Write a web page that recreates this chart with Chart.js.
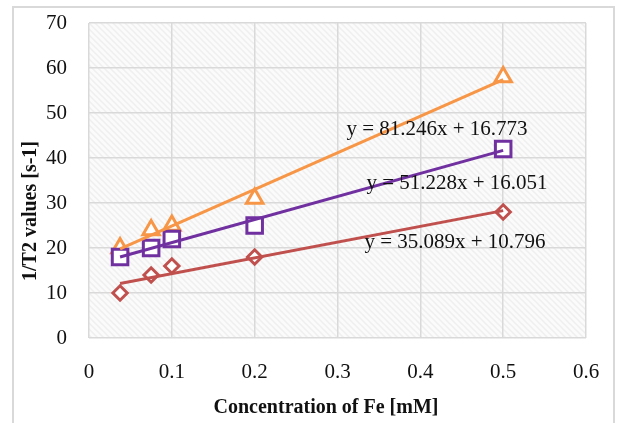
<!DOCTYPE html>
<html>
<head>
<meta charset="utf-8">
<script src="https://cdn.jsdelivr.net/npm/chart.js@4.4.0/dist/chart.umd.min.js"></script>
<style>
html,body{margin:0;padding:0;background:#fff;}
#wrap{position:absolute;left:0;top:0;width:619px;height:423px;}
</style>
</head>
<body>
<div id="wrap"><canvas id="c" width="619" height="423"></canvas></div>
<script>
// ---- data ----
const concentrations = [0.0375, 0.075, 0.1, 0.2, 0.5];
const seriesRed    = [10, 14, 16, 18, 28];
const seriesPurple = [18, 20, 22, 25, 42];
const seriesOrange = [20, 24, 25, 31, 58];
// trend line end points (x = first and last concentration)
const trendX      = [0.0375, 0.5];
const trendRed    = [12.1, 28.3];
const trendPurple = [18.0, 41.7];
const trendOrange = [19.8, 57.4];
const equations = ['y = 81.246x + 16.773', 'y = 51.228x + 16.051', 'y = 35.089x + 10.796'];
const xTickLabels = ['0', '0.1', '0.2', '0.3', '0.4', '0.5', '0.6'];
const yTickLabels = ['0', '10', '20', '30', '40', '50', '60', '70'];
const xTitle = 'Concentration of Fe [mM]';
const yTitle = '1/T2 values [s-1]';

const RED = '#C0504D', PURPLE = '#7030A0', ORANGE = '#F79646';
const SERIF = '"Liberation Serif","Times New Roman",serif';

function pts(xs, ys){ return xs.map((x,i)=>({x:x, y:ys[i]})); }

function makePattern(ctx){
  const p = document.createElement('canvas');
  p.width = 6; p.height = 6;
  const g = p.getContext('2d');
  g.fillStyle = '#fbfbfb'; g.fillRect(0,0,6,6);
  g.strokeStyle = '#efefef'; g.lineWidth = 1.5;
  g.beginPath();
  g.moveTo(-1,-1); g.lineTo(7,7);
  g.moveTo(-4,2); g.lineTo(2,8);
  g.moveTo(2,-4); g.lineTo(8,2);
  g.stroke();
  return ctx.createPattern(p, 'repeat');
}

const decor = {
  id: 'decor',
  beforeDraw(chart){
    const ctx = chart.ctx, a = chart.chartArea;
    ctx.save();
    ctx.fillStyle = '#fff';
    ctx.fillRect(0,0,chart.width,chart.height);
    ctx.strokeStyle = '#d9d9d9'; ctx.lineWidth = 2;
    ctx.strokeRect(13, 7, 601, 430);
    ctx.fillStyle = makePattern(ctx);
    ctx.fillRect(a.left, a.top, a.right - a.left, a.bottom - a.top);
    ctx.restore();
  },
  afterDraw(chart){
    const ctx = chart.ctx;
    ctx.save();
    ctx.fillStyle = '#111';
    ctx.font = '21px ' + SERIF;
    ctx.textAlign = 'center'; ctx.textBaseline = 'middle';
    ctx.fillText(equations[0], 437, 129);
    ctx.fillText(equations[1], 457, 183);
    ctx.fillText(equations[2], 455, 242);
    ctx.font = 'bold 20px ' + SERIF;
    ctx.fillText(xTitle, 326, 408);
    ctx.translate(31, 211);
    ctx.rotate(-Math.PI/2);
    ctx.fillText(yTitle, 0, 0);
    ctx.restore();
  }
};

const lineDs = (data, color) => ({
  data: data, showLine: true, borderColor: color, borderWidth: 3,
  pointRadius: 0, pointHoverRadius: 0, fill: false
});
const markDs = (data, color, style, r) => ({
  data: data, showLine: false, borderColor: color, backgroundColor: '#ffffff',
  pointStyle: style, pointRadius: r, pointHoverRadius: r, pointBorderWidth: 3
});

new Chart(document.getElementById('c'), {
  type: 'scatter',
  data: {
    datasets: [
      lineDs(pts(trendX, trendRed), RED),
      lineDs(pts(trendX, trendPurple), PURPLE),
      lineDs(pts(trendX, trendOrange), ORANGE),
      markDs(pts(concentrations, seriesRed), RED, 'rectRot', 7.2),
      markDs(pts(concentrations, seriesPurple), PURPLE, 'rect', 11),
      markDs(pts(concentrations, seriesOrange), ORANGE, 'triangle', 9.5)
    ]
  },
  options: {
    responsive: false, animation: false,
    layout: { padding: { top: 23, right: 33, left: 0, bottom: 0 }, autoPadding: false },
    plugins: { legend: { display: false }, tooltip: { enabled: false } },
    scales: {
      x: {
        type: 'linear', min: 0, max: 0.6,
        afterFit(s){ s.height = 85; s.paddingLeft = 0; s.paddingRight = 0; },
        border: { display: false },
        grid: { color: '#d9d9d9', lineWidth: 1.5, drawTicks: false },
        ticks: { stepSize: 0.1, padding: 22, color: '#111', font: { family: SERIF, size: 21 },
                 callback: (v, i) => xTickLabels[i] }
      },
      y: {
        min: 0, max: 70,
        afterFit(s){ s.width = 89; s.paddingTop = 0; s.paddingBottom = 0; },
        border: { display: false },
        grid: { color: '#d9d9d9', lineWidth: 1.5, drawTicks: false },
        ticks: { stepSize: 10, padding: 22, color: '#111', font: { family: SERIF, size: 21 },
                 callback: (v, i) => yTickLabels[i] }
      }
    }
  },
  plugins: [decor]
});
</script>
</body>
</html>
